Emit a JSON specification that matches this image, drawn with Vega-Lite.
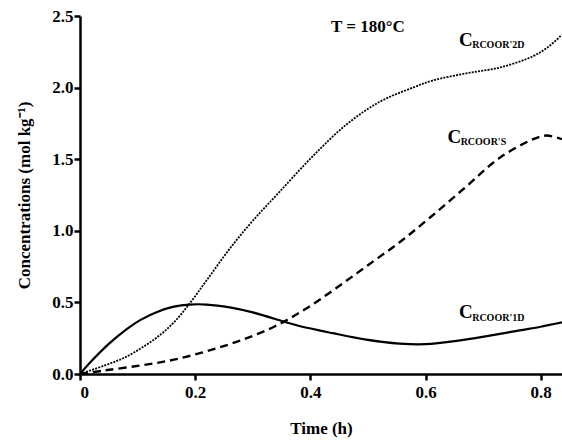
{
  "$schema": "https://vega.github.io/schema/vega-lite/v6.json",
  "width": 482,
  "height": 358,
  "autosize": {"type": "none"},
  "padding": {"left": 80, "top": 16, "right": 0, "bottom": 68},
  "background": "white",
  "config": {
    "view": {"stroke": null},
    "font": "Liberation Serif, serif",
    "axis": {"grid": false, "domainColor": "black", "domainWidth": 2.5, "tickColor": "black", "tickWidth": 2.5, "tickSize": 6,
      "labelFont": "Liberation Serif, serif", "labelFontWeight": "bold", "labelFontSize": 17, "labelColor": "black",
      "titleFont": "Liberation Serif, serif", "titleFontWeight": "bold", "titleFontSize": 17, "titleColor": "black"}
  },
  "datasets": {
    "curves": [
      {"series": "1D", "t": 0, "c": 0},
      {"series": "1D", "t": 0.02, "c": 0.09},
      {"series": "1D", "t": 0.05, "c": 0.21},
      {"series": "1D", "t": 0.08, "c": 0.31},
      {"series": "1D", "t": 0.106, "c": 0.38},
      {"series": "1D", "t": 0.135, "c": 0.435},
      {"series": "1D", "t": 0.163, "c": 0.47},
      {"series": "1D", "t": 0.19, "c": 0.485},
      {"series": "1D", "t": 0.22, "c": 0.485},
      {"series": "1D", "t": 0.26, "c": 0.465},
      {"series": "1D", "t": 0.30, "c": 0.43},
      {"series": "1D", "t": 0.355, "c": 0.365},
      {"series": "1D", "t": 0.381, "c": 0.335},
      {"series": "1D", "t": 0.439, "c": 0.285},
      {"series": "1D", "t": 0.497, "c": 0.24},
      {"series": "1D", "t": 0.555, "c": 0.212},
      {"series": "1D", "t": 0.60, "c": 0.208},
      {"series": "1D", "t": 0.66, "c": 0.235},
      {"series": "1D", "t": 0.729, "c": 0.28},
      {"series": "1D", "t": 0.763, "c": 0.305},
      {"series": "1D", "t": 0.80, "c": 0.33},
      {"series": "1D", "t": 0.837, "c": 0.36},
      {"series": "2D", "t": 0, "c": 0},
      {"series": "2D", "t": 0.043, "c": 0.06},
      {"series": "2D", "t": 0.075, "c": 0.11},
      {"series": "2D", "t": 0.106, "c": 0.18},
      {"series": "2D", "t": 0.135, "c": 0.26},
      {"series": "2D", "t": 0.163, "c": 0.36},
      {"series": "2D", "t": 0.19, "c": 0.49},
      {"series": "2D", "t": 0.221, "c": 0.66},
      {"series": "2D", "t": 0.259, "c": 0.87},
      {"series": "2D", "t": 0.30, "c": 1.07},
      {"series": "2D", "t": 0.346, "c": 1.27},
      {"series": "2D", "t": 0.404, "c": 1.52},
      {"series": "2D", "t": 0.462, "c": 1.74},
      {"series": "2D", "t": 0.52, "c": 1.9},
      {"series": "2D", "t": 0.578, "c": 2.0},
      {"series": "2D", "t": 0.613, "c": 2.05},
      {"series": "2D", "t": 0.671, "c": 2.10},
      {"series": "2D", "t": 0.729, "c": 2.14},
      {"series": "2D", "t": 0.787, "c": 2.22},
      {"series": "2D", "t": 0.815, "c": 2.29},
      {"series": "2D", "t": 0.837, "c": 2.37},
      {"series": "S", "t": 0, "c": 0},
      {"series": "S", "t": 0.043, "c": 0.025},
      {"series": "S", "t": 0.106, "c": 0.06},
      {"series": "S", "t": 0.163, "c": 0.10},
      {"series": "S", "t": 0.221, "c": 0.16},
      {"series": "S", "t": 0.279, "c": 0.235},
      {"series": "S", "t": 0.337, "c": 0.33},
      {"series": "S", "t": 0.39, "c": 0.45},
      {"series": "S", "t": 0.445, "c": 0.6},
      {"series": "S", "t": 0.50, "c": 0.76},
      {"series": "S", "t": 0.555, "c": 0.92},
      {"series": "S", "t": 0.61, "c": 1.10},
      {"series": "S", "t": 0.671, "c": 1.31},
      {"series": "S", "t": 0.729, "c": 1.51},
      {"series": "S", "t": 0.787, "c": 1.64},
      {"series": "S", "t": 0.81, "c": 1.665},
      {"series": "S", "t": 0.837, "c": 1.64}
    ],
    "bigLabels": [
      {"t": 0.658, "c": 2.33, "text": "C"},
      {"t": 0.638, "c": 1.655, "text": "C"},
      {"t": 0.658, "c": 0.43, "text": "C"}
    ],
    "subLabels": [
      {"t": 0.681, "c": 2.3, "text": "RCOOR'2D"},
      {"t": 0.661, "c": 1.62, "text": "RCOOR'S"},
      {"t": 0.681, "c": 0.39, "text": "RCOOR'1D"}
    ],
    "title": [
      {"t": 0.50, "c": 2.42, "text": "T = 180°C"}
    ]
  },
  "layer": [
    {
      "data": {"name": "curves"},
      "transform": [{"filter": "datum.series === '1D'"}],
      "mark": {"type": "line", "color": "black", "strokeWidth": 2.2, "interpolate": "catmull-rom", "clip": true},
      "encoding": {
        "x": {"field": "t", "type": "quantitative", "scale": {"domain": [0, 0.837], "nice": false},
          "axis": {"values": [0, 0.2, 0.4, 0.6, 0.8], "title": "Time (h)", "labelExpr": "datum.value == 0 ? '0' : format(datum.value, '.1f')", "titlePadding": 20, "labelPadding": 4}},
        "y": {"field": "c", "type": "quantitative", "scale": {"domain": [0, 2.5], "nice": false},
          "axis": {"values": [0, 0.5, 1, 1.5, 2, 2.5], "format": ".1f", "title": "Concentrations (mol kg⁻¹)", "titlePadding": 18, "labelPadding": 1}}
      }
    },
    {
      "data": {"name": "curves"},
      "transform": [{"filter": "datum.series === '2D'"}],
      "mark": {"type": "line", "color": "black", "strokeWidth": 1.8, "strokeDash": [2, 1.2], "interpolate": "catmull-rom", "clip": true},
      "encoding": {
        "x": {"field": "t", "type": "quantitative"},
        "y": {"field": "c", "type": "quantitative"}
      }
    },
    {
      "data": {"name": "curves"},
      "transform": [{"filter": "datum.series === 'S'"}],
      "mark": {"type": "line", "color": "black", "strokeWidth": 2.4, "strokeDash": [8, 5], "interpolate": "catmull-rom", "clip": true},
      "encoding": {
        "x": {"field": "t", "type": "quantitative"},
        "y": {"field": "c", "type": "quantitative"}
      }
    },
    {
      "data": {"name": "bigLabels"},
      "mark": {"type": "text", "font": "Liberation Serif, serif", "fontSize": 19, "fontWeight": "bold", "color": "black", "align": "left", "baseline": "middle"},
      "encoding": {
        "x": {"field": "t", "type": "quantitative"},
        "y": {"field": "c", "type": "quantitative"},
        "text": {"field": "text"}
      }
    },
    {
      "data": {"name": "subLabels"},
      "mark": {"type": "text", "font": "Liberation Serif, serif", "fontSize": 10, "fontWeight": "bold", "color": "black", "align": "left", "baseline": "middle"},
      "encoding": {
        "x": {"field": "t", "type": "quantitative"},
        "y": {"field": "c", "type": "quantitative"},
        "text": {"field": "text"}
      }
    },
    {
      "data": {"name": "title"},
      "mark": {"type": "text", "font": "Liberation Serif, serif", "fontSize": 17, "fontWeight": "bold", "color": "black", "align": "center", "baseline": "middle"},
      "encoding": {
        "x": {"field": "t", "type": "quantitative"},
        "y": {"field": "c", "type": "quantitative"},
        "text": {"field": "text"}
      }
    }
  ]
}
